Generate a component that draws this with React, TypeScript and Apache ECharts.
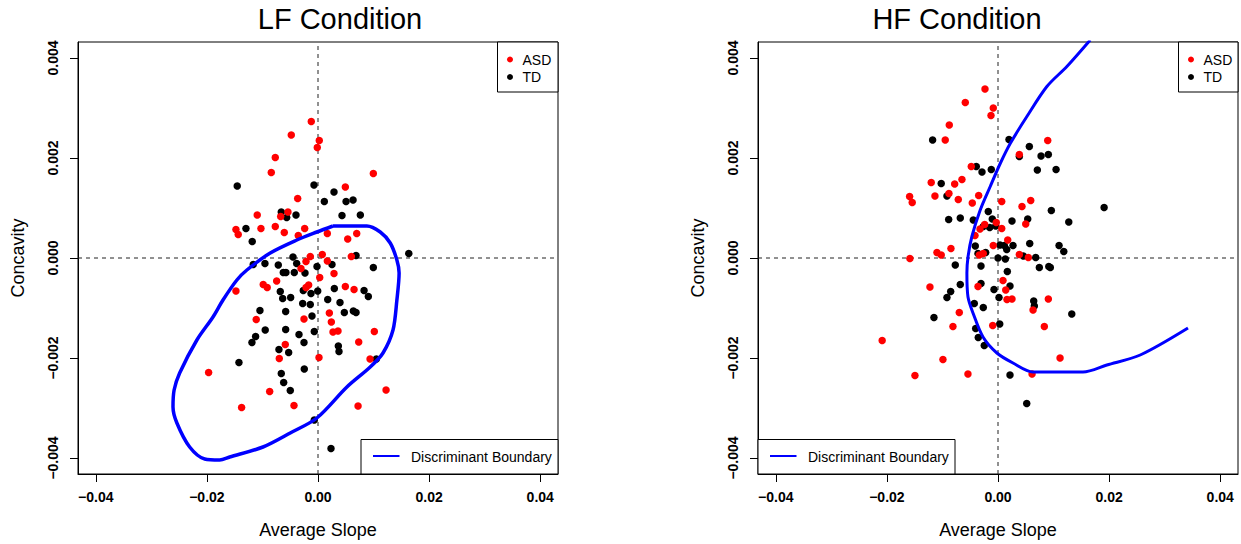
import React, { useEffect, useRef } from "react";
import * as echarts from "echarts";

const xTicks = [-0.04, -0.02, 0, 0.02, 0.04];
const yTicks = [-0.004, -0.002, 0, 0.002, 0.004];
const xRange = [-0.0432, 0.0432];
const yRange = [-0.00432, 0.00432];
const panelTitles = ["LF Condition", "HF Condition"];
const xName = "Average Slope";
const yName = "Concavity";
const groupNames = ["ASD", "TD"];
const boundaryName = "Discriminant Boundary";

const lfASD: number[][] = [
  [-0.00121, 0.00273], [-0.00481, 0.00246], [0.00023, 0.00235], [-0.00013, 0.00221],
  [-0.00769, 0.00201], [-0.00841, 0.00171], [0.00996, 0.00169], [0.00492, 0.00142],
  [-0.00366, 0.00119], [-0.00541, 0.00092], [-0.00672, 0.00083], [-0.01094, 0.00086],
  [-0.01477, 0.00057], [-0.01436, 0.00047], [-0.01027, 0.00059], [-0.00769, 0.00063],
  [-0.00607, 0.00051], [-0.0024, 0.00059], [-0.00355, 0.00045], [0.00168, 0.00049],
  [0.00535, 0.00038], [0.00697, 0.00049], [-0.00139, 0.00003], [0.00077, 0.00007],
  [-0.00216, -0.00007], [0.00168, -0.00006], [0.006, 0.00003], [-0.00306, -0.00021],
  [0.00288, -0.00031], [-0.00744, -0.00046], [-0.00986, -0.00053], [-0.00914, -0.00059],
  [-0.00168, -0.00054], [-0.00216, -0.00059], [0.00031, -0.00039], [0.00492, -0.00057],
  [0.00649, -0.00063], [-0.01477, -0.00066], [0.00204, -0.0011], [-0.00252, -0.00122],
  [-0.01112, -0.00123], [0.0024, -0.00128], [0.0027, -0.00148], [0.0036, -0.00146],
  [0.01014, -0.00147], [0.00733, -0.00168], [-0.00589, -0.00173], [-0.00697, -0.00201],
  [0.00018, -0.00199], [0.00937, -0.00202], [-0.01969, -0.00229], [-0.0087, -0.00267],
  [0.01225, -0.00264], [-0.01375, -0.00299], [-0.00432, -0.00295], [0.00721, -0.00296],
];

const lfTD: number[][] = [
  [-0.01454, 0.00144], [-0.00072, 0.00146], [0.00288, 0.00132], [0.00114, 0.00113],
  [0.00505, 0.00113], [0.00631, 0.00116], [-0.00661, 0.00092], [-0.00564, 0.00081],
  [-0.00396, 0.00086], [0.00432, 0.00085], [0.00762, 0.00086], [-0.01297, 0.00059],
  [-0.01184, 0.00033], [-0.0045, 0.00002], [0.00685, 0.00005], [0.01634, 0.00009],
  [-0.01166, -0.00013], [-0.00955, -0.00011], [-0.00715, -0.00014], [-0.00384, -0.00011],
  [-0.00018, -0.00017], [0.00252, -0.00013], [0.00996, -0.00019], [-0.00625, -0.00029],
  [-0.00577, -0.00029], [-0.00427, -0.00029], [-0.00234, -0.0003], [-0.00679, -0.00067],
  [-0.00265, -0.00065], [-0.00126, -0.00071], [-0.00005, -0.00066], [0.00294, -0.00061],
  [0.00829, -0.00065], [0.00906, -0.00077], [-0.00492, -0.00079], [-0.00636, -0.00081],
  [0.00175, -0.00083], [-0.00276, -0.00091], [-0.00139, -0.00093], [0.00396, -0.00089],
  [-0.01045, -0.00105], [-0.00582, -0.00107], [-0.00108, -0.00116], [0.00474, -0.00109],
  [0.00636, -0.00106], [0.00685, -0.00109], [-0.0095, -0.00144], [-0.00582, -0.00143],
  [-0.00067, -0.00147], [-0.01123, -0.00157], [-0.01189, -0.00169], [-0.00342, -0.00153],
  [-0.00252, -0.00169], [0.00366, -0.00176], [0.00378, -0.00187], [-0.00703, -0.00183],
  [-0.00528, -0.00189], [-0.01423, -0.00209], [0.0105, -0.00202], [-0.00247, -0.00222],
  [-0.00661, -0.00231], [-0.00618, -0.00249], [-0.00499, -0.00265], [-0.00067, -0.00324],
  [0.00234, -0.00381],
];

const hfASD: number[][] = [
  [-0.00234, 0.00338], [-0.00589, 0.00311], [-0.00085, 0.003], [-0.00126, 0.00285],
  [-0.00877, 0.00266], [-0.0095, 0.00236], [0.00895, 0.00235], [0.00384, 0.00207],
  [-0.00481, 0.00183], [-0.01202, 0.00151], [-0.0078, 0.00148], [-0.00649, 0.00157],
  [-0.01591, 0.00123], [-0.01544, 0.00111], [-0.01135, 0.00124], [-0.00883, 0.00129],
  [-0.00715, 0.00117], [-0.00348, 0.00125], [-0.00463, 0.0011], [0.00067, 0.00113],
  [0.00589, 0.00115], [0.00432, 0.00103], [0.00499, 0.00068], [-0.0024, 0.00067],
  [-0.00324, 0.00058], [-0.00031, 0.00071], [0.00067, 0.00059], [-0.00414, 0.00045],
  [0.00175, 0.00036], [-0.00847, 0.00019], [-0.01099, 0.00011], [-0.01022, 0.00006],
  [-0.01586, -0.00001], [-0.00085, 0.00025], [-0.00337, 0.00006], [-0.00265, 0.00009],
  [0.00384, 0.00007], [0.00546, 0.00001], [0.0009, -0.00045], [-0.0036, -0.00057],
  [0.00139, -0.00064], [0.00162, -0.00083], [0.00252, -0.00082], [0.00906, -0.00082],
  [-0.01225, -0.00058], [-0.00697, -0.00109], [0.00631, -0.00104], [0.00834, -0.00137],
  [-0.00811, -0.00137], [-0.00095, -0.00135], [-0.02085, -0.00165], [-0.00991, -0.00203],
  [0.01117, -0.002], [-0.01495, -0.00235], [-0.00541, -0.00232], [0.00613, -0.00232],
];

const hfTD: number[][] = [
  [-0.01177, 0.00236], [0.00198, 0.00237], [0.00564, 0.00223], [0.00384, 0.00203],
  [0.00775, 0.00204], [0.00906, 0.00207], [-0.00391, 0.00183], [-0.00288, 0.00172],
  [-0.00121, 0.00177], [0.00708, 0.00176], [0.01045, 0.00177], [-0.01022, 0.00149],
  [-0.00919, 0.00124], [0.0191, 0.00101], [0.0096, 0.00095], [-0.00175, 0.00093],
  [-0.00888, 0.00077], [-0.00679, 0.0008], [-0.00445, 0.00076], [-0.00103, 0.00078],
  [0.00252, 0.00074], [0.00535, 0.00078], [0.01274, 0.00072], [-0.00265, 0.00063],
  [-0.0015, 0.00061], [-0.00041, 0.00064], [-0.00409, 0.00024], [0.00036, 0.00026],
  [0.00114, 0.00025], [0.0027, 0.00025], [0.00571, 0.00029], [0.01099, 0.00025],
  [0.01184, 0.00013], [-0.0036, 0.00009], [-0.00222, 0.00011], [0.0, 0.0],
  [0.00132, -0.00002], [0.00157, 0.00017], [0.00679, 0.00001], [0.00456, 0.00004],
  [-0.00769, -0.00014], [-0.00306, -0.00016], [0.00744, -0.00019], [0.00914, -0.00017],
  [0.00942, -0.00019], [0.00168, -0.00027], [-0.00306, -0.00051], [-0.00679, -0.00053],
  [0.00216, -0.00056], [-0.00072, -0.00063], [-0.00852, -0.00067], [-0.00919, -0.00079],
  [0.00018, -0.00079], [-0.00427, -0.00091], [-0.00265, -0.00099], [0.00643, -0.00086],
  [0.00654, -0.00096], [0.01328, -0.00112], [-0.01153, -0.00119], [0.00031, -0.00132],
  [-0.00402, -0.00141], [-0.00355, -0.00159], [-0.00247, -0.00175], [0.00216, -0.00234],
  [0.00517, -0.00291],
];

const lfBoundary: number[][] = [
  [0.0027, 0.00064], [0.0088, 0.00064], [0.0112, 0.00052], [0.013, 0.0003],
  [0.0142, -0.00004], [0.0146, -0.0003], [0.0142, -0.00084], [0.0135, -0.00144],
  [0.0117, -0.0019], [0.0094, -0.00218], [0.0052, -0.00258], [-0.0002, -0.0032],
  [-0.005, -0.0035], [-0.0099, -0.00378], [-0.0159, -0.00398], [-0.0177, -0.00404],
  [-0.0204, -0.00402], [-0.0231, -0.00378], [-0.0254, -0.0033], [-0.0261, -0.00298],
  [-0.0259, -0.00264], [-0.0249, -0.0023], [-0.0218, -0.00164], [-0.0189, -0.00118],
  [-0.0171, -0.00084], [-0.0146, -0.00044], [-0.0128, -0.00024], [-0.0086, 0.0001],
  [-0.0038, 0.00036], [-0.0002, 0.00052], [0.0027, 0.00064],
];

const hfBoundary: number[][] = [
  [0.0166, 0.00436], [0.0124, 0.00383], [0.0088, 0.00343], [0.0052, 0.00283],
  [0.0022, 0.00229], [0.0004, 0.00189], [-0.0014, 0.00143], [-0.0032, 0.00096],
  [-0.0047, 0.00043], [-0.0054, 0.00002], [-0.0056, -0.0003], [-0.0054, -0.00078],
  [-0.0045, -0.0011], [-0.0027, -0.00158], [-0.0002, -0.0019], [0.0027, -0.0021],
  [0.0063, -0.00228], [0.0153, -0.00228], [0.0196, -0.00214], [0.0256, -0.00194],
  [0.0342, -0.0014],
];

const FONT = "'Liberation Sans', Arial, Helvetica, sans-serif";
const RED = "#ff0000";
const BLUE = "#0000ff";

const fmt = (v: number, d: number) =>
  (v < -1e-12 ? "\u2212" : "") + Math.abs(v).toFixed(d);

export default function App() {
  const ref = useRef<HTMLDivElement>(null);
  useEffect(() => {
    if (!ref.current) return;
    const chart = echarts.init(ref.current, null, { renderer: "svg" });
    const panels = [
      { left: 78, cx: 318, titleX: 340, asd: lfASD, td: lfTD, bnd: lfBoundary, bw: 3.5, legTop: 497.5, legBot: 361 },
      { left: 758, cx: 998, titleX: 957, asd: hfASD, td: hfTD, bnd: hfBoundary, bw: 3, legTop: 1178.5, legBot: 758 },
    ];
    const W = 480, TOP = 42, H = 432;
    const grids = panels.map((p) => ({
      left: p.left, top: TOP, width: W, height: H, show: true,
      borderColor: "#000", borderWidth: 1, backgroundColor: "transparent",
    }));
    const xAxes = panels.map((_, i) => ({
      type: "value", gridIndex: i, min: xRange[0], max: xRange[1], position: "bottom",
      axisLine: { show: true, onZero: false, lineStyle: { color: "#000", width: 1 } },
      axisTick: { show: true, length: 8, inside: false, customValues: xTicks, lineStyle: { color: "#000" } },
      axisLabel: {
        show: true, customValues: xTicks, margin: 16, color: "#000",
        fontFamily: FONT, fontWeight: "bold", fontSize: 14,
        formatter: (v: number) => fmt(v, 2),
      },
      splitLine: { show: false },
    }));
    const yAxes = panels.map((_, i) => ({
      type: "value", gridIndex: i, min: yRange[0], max: yRange[1], position: "left",
      axisLine: { show: true, onZero: false, lineStyle: { color: "#000", width: 1 } },
      axisTick: { show: true, length: 8, inside: false, customValues: yTicks, lineStyle: { color: "#000" } },
      axisLabel: {
        show: true, customValues: yTicks, margin: 18, rotate: 90, color: "#000",
        fontFamily: FONT, fontWeight: "bold", fontSize: 14,
        formatter: (v: number) => fmt(v, 3),
      },
      splitLine: { show: false },
    }));
    const dash = { type: [4, 4], color: "#222", width: 1 };
    const series: any[] = [];
    panels.forEach((p, i) => {
      series.push({
        name: "x0", type: "line", xAxisIndex: i, yAxisIndex: i, silent: true,
        data: [[0, yRange[0]], [0, yRange[1]]], showSymbol: false, z: 1,
        lineStyle: dash, emphasis: { disabled: true },
      });
      series.push({
        name: "y0", type: "line", xAxisIndex: i, yAxisIndex: i, silent: true,
        data: [[xRange[0], 0], [xRange[1], 0]], showSymbol: false, z: 1,
        lineStyle: dash, emphasis: { disabled: true },
      });
      series.push({
        name: groupNames[1], type: "scatter", xAxisIndex: i, yAxisIndex: i,
        data: p.td, symbol: "circle", symbolSize: 7.5,
        itemStyle: { color: "#000", opacity: 1 }, z: 3,
      });
      series.push({
        name: groupNames[0], type: "scatter", xAxisIndex: i, yAxisIndex: i,
        data: p.asd, symbol: "circle", symbolSize: 7.5,
        itemStyle: { color: RED, opacity: 1 }, z: 4,
      });
      series.push({
        name: boundaryName, type: "line", xAxisIndex: i, yAxisIndex: i,
        data: p.bnd, showSymbol: false, smooth: 0.3, clip: true,
        lineStyle: { color: BLUE, width: p.bw }, z: 5,
      });
    });

    const graphics: any[] = [];
    panels.forEach((p, pi) => {
      graphics.push({
        type: "text", x: p.titleX, y: 19, z: 100,
        style: { text: panelTitles[pi], fontFamily: FONT, fontSize: 29, fill: "#000", textAlign: "center", textVerticalAlign: "middle" },
      });
      graphics.push({
        type: "text", x: p.cx, y: 530, z: 100,
        style: { text: xName, fontFamily: FONT, fontSize: 18, fill: "#000", textAlign: "center", textVerticalAlign: "middle" },
      });
      graphics.push({
        type: "text", x: p.left - 60, y: 258, rotation: Math.PI / 2, z: 100,
        style: { text: yName, fontFamily: FONT, fontSize: 18, fill: "#000", textAlign: "center", textVerticalAlign: "middle" },
      });
      const lx = p.legTop;
      graphics.push({
        type: "rect", z: 100,
        shape: { x: lx, y: TOP, width: p.left + W - lx, height: 50 },
        style: { fill: "#fff", stroke: "#000", lineWidth: 1 },
      });
      graphics.push({ type: "circle", z: 101, shape: { cx: lx + 12.5, cy: 59.5, r: 3 }, style: { fill: RED } });
      graphics.push({ type: "circle", z: 101, shape: { cx: lx + 12.5, cy: 77, r: 3 }, style: { fill: "#000" } });
      graphics.push({
        type: "text", z: 101, x: lx + 25, y: 59.5,
        style: { text: groupNames[0], fontFamily: FONT, fontSize: 14, fill: "#000", textVerticalAlign: "middle" },
      });
      graphics.push({
        type: "text", z: 101, x: lx + 25, y: 77,
        style: { text: groupNames[1], fontFamily: FONT, fontSize: 14, fill: "#000", textVerticalAlign: "middle" },
      });
      const bx = p.legBot;
      graphics.push({
        type: "rect", z: 100,
        shape: { x: bx, y: 439.5, width: 197, height: TOP + H - 439.5 },
        style: { fill: "#fff", stroke: "#000", lineWidth: 1 },
      });
      graphics.push({
        type: "line", z: 101,
        shape: { x1: bx + 12, y1: 456, x2: bx + 38.5, y2: 456 },
        style: { stroke: BLUE, lineWidth: 2 },
      });
      graphics.push({
        type: "text", z: 101, x: bx + 50, y: 456.5,
        style: { text: boundaryName, fontFamily: FONT, fontSize: 14, fill: "#000", textVerticalAlign: "middle" },
      });
    });

    chart.setOption({
      animation: false,
      backgroundColor: "#fff",
      grid: grids,
      xAxis: xAxes,
      yAxis: yAxes,
      series,
      graphic: graphics,
    });
    return () => chart.dispose();
  }, []);
  return (
    <div
      ref={ref}
      style={{ position: "absolute", left: 0, top: 0, width: 1241, height: 544 }}
    />
  );
}
